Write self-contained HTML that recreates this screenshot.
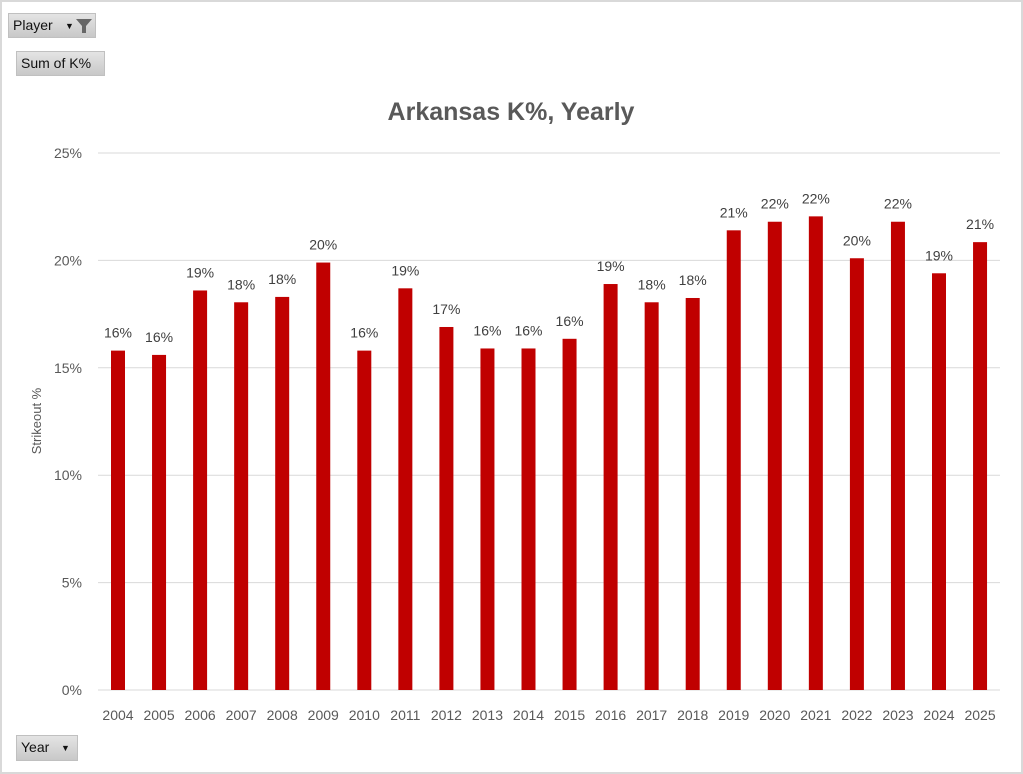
<!DOCTYPE html>
<html><head><meta charset="utf-8"><style>
body{margin:0;background:#fff;}
#wrap{position:relative;width:1023px;height:774px;overflow:hidden;font-family:"Liberation Sans",sans-serif;}
.btn{position:absolute;background:linear-gradient(#e4e4e4,#c8c8c8);border:1px solid #c0c0c0;font-size:14px;color:#111;box-sizing:border-box;line-height:22px;padding-left:4px;}
</style></head><body>
<div id="wrap">
<div style="position:absolute;left:0;top:0;width:1023px;height:774px;border:2px solid #d9d9d9;box-sizing:border-box;"></div>
<div class="btn" style="left:8px;top:13px;width:88px;height:25px;">Player <span style="position:absolute;left:56px;top:1px;font-size:9px">▼</span><svg style="position:absolute;left:66px;top:4px" width="18" height="16"><path d="M1 1H17L11 8V15H7V8Z" fill="#666"/></svg></div>
<div class="btn" style="left:16px;top:51px;width:89px;height:25px;">Sum of K%</div>
<div class="btn" style="left:16px;top:735px;width:62px;height:26px;">Year <span style="position:absolute;left:44px;top:1px;font-size:9px">▼</span></div>
<svg id="chart" width="1023" height="774" style="position:absolute;left:0;top:0">
<text x="511" y="120" text-anchor="middle" font-size="25" font-weight="bold" fill="#595959" font-family="Liberation Sans Narrow, Liberation Sans, sans-serif">Arkansas K%, Yearly</text>
<text transform="translate(41,421) rotate(-90)" text-anchor="middle" font-size="13" fill="#595959">Strikeout %</text>
<g id="grid"></g><g id="bars"></g>
</svg>
</div>
<script>
const years=["2004","2005","2006","2007","2008","2009","2010","2011","2012","2013","2014","2015","2016","2017","2018","2019","2020","2021","2022","2023","2024","2025"];
const kPct=[15.8,15.6,18.6,18.05,18.3,19.9,15.8,18.7,16.9,15.9,15.9,16.35,18.9,18.05,18.25,21.4,21.8,22.05,20.1,21.8,19.4,20.85];
const yTicks=[0,5,10,15,20,25];
const NS="http://www.w3.org/2000/svg";
const y=v=>690-v*(537/25);
const x=i=>118+i*41.05;
const grid=document.getElementById('grid'),bars=document.getElementById('bars');
function mk(tag,attrs,parent,text){const e=document.createElementNS(NS,tag);for(const k in attrs)e.setAttribute(k,attrs[k]);if(text!==undefined)e.textContent=text;parent.appendChild(e);return e;}
yTicks.forEach(t=>{
 const l=mk('line',{x1:98,x2:1000,y1:y(t),y2:y(t),stroke:'#d9d9d9','stroke-width':1},grid);
 
 
 const tx=mk('text',{x:82,y:y(t)+5,'text-anchor':'end','font-size':14,fill:'#595959'},grid,t+'%');
 
 
});
years.forEach((yr,i)=>{
 const v=kPct[i];
 const r=mk('rect',{x:x(i)-7,y:y(v),width:14,height:690-y(v),fill:'#c00000'},bars);
 
 
 const lb=mk('text',{x:x(i),y:y(v)-13,'text-anchor':'middle','font-size':14,fill:'#404040'},bars,Math.round(v)+'%');
 
 
 const xl=mk('text',{x:x(i),y:720,'text-anchor':'middle','font-size':14,fill:'#595959'},bars,yr);
 
 
});
</script>
</body></html>
